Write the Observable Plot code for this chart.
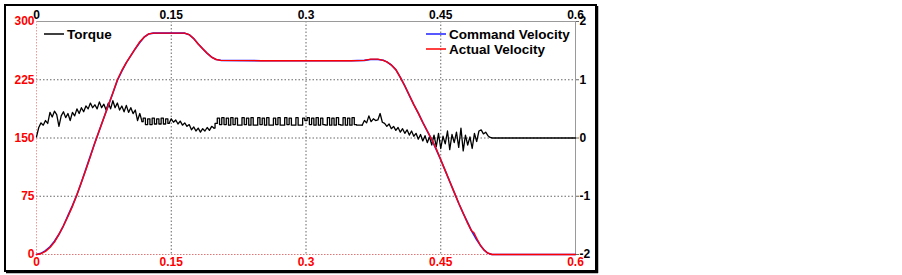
<!DOCTYPE html>
<html>
<head>
<meta charset="utf-8">
<script src="https://cdn.jsdelivr.net/npm/d3@7"></script>
<script src="https://cdn.jsdelivr.net/npm/@observablehq/plot@0.6"></script>
<style>
  html, body { margin: 0; padding: 0; background: #fff; }
  #wrap { position: relative; width: 902px; height: 275px; }
</style>
</head>
<body>
<div id="wrap"></div>
<script>
// ---- data ----
const xTicks = [0, 0.15, 0.3, 0.45, 0.6];
const velTicks = [0, 75, 150, 225, 300];
const torqueTicks = [-2, -1, 0, 1, 2];

const velT = [0,0.005,0.01,0.015,0.02,0.025,0.03,0.035,0.04,0.045,0.05,0.055,0.06,0.065,0.07,0.075,0.08,0.085,0.09,0.095,0.1,0.105,0.11,0.115,0.12,0.125,0.13,0.14,0.15,0.16,0.165,0.17,0.175,0.18,0.185,0.19,0.195,0.2,0.205,0.25,0.3,0.35,0.365,0.372,0.38,0.386,0.39,0.395,0.4,0.405,0.41,0.415,0.42,0.425,0.43,0.435,0.44,0.445,0.45,0.455,0.46,0.465,0.47,0.475,0.48,0.484,0.487,0.49,0.494,0.498,0.502,0.507,0.55,0.6];
const actualVelocity = [0,1,4,9,16,26,37,49,62,77,93,109,126,144,160,176,192,208,225,237,247,256,265,274,280,284,285,285,285,285,285,283,278,271,265,259,254,251,250,249.5,249.5,249.5,250,251.5,251.5,250,248,244,238,228,217,205,193,182,170,159,148,136,122,108,94,80,66,53,40,31,28,21,12,6,2,0,0,0];
const commandVelocity = [0,1.5,5,10,17,26,37,50,63,77,93,110,127,144,160,176,192,208,224,236,247,256,265,273,280,284,285,285,285,285,285,283,278,271,265,259,254,251,250,249.5,249.5,249.5,250,251,251,250,248,244,238,228,217,205,193,182,170,159,148,135,122,108,94,80,66,53,41,31,25,19,12,6,2,0,0,0];

const torqueStep = 0.0025;
const torque = [
  0.02,0.18,0.26,0.22,0.3,0.25,0.44,0.36,0.46,0.4,
  0.2,0.38,0.45,0.35,0.42,0.3,0.44,0.38,0.5,0.42,
  0.52,0.45,0.55,0.5,0.6,0.52,0.57,0.5,0.62,0.52,
  0.58,0.48,0.6,0.5,0.64,0.52,0.6,0.48,0.55,0.45,
  0.56,0.44,0.52,0.42,0.48,0.3,0.42,0.28,0.34,0.23,
  0.33,0.23,0.34,0.24,0.33,0.24,0.34,0.24,0.33,0.25,
  0.33,0.27,0.31,0.24,0.29,0.22,0.26,0.2,0.23,0.14,
  0.19,0.12,0.17,0.1,0.16,0.12,0.18,0.13,0.2,0.17,
  0.25,0.34,0.23,0.35,0.23,0.34,0.22,0.35,0.23,0.34,
  0.22,0.22,0.35,0.23,0.34,0.22,0.35,0.22,0.22,0.35,
  0.23,0.34,0.22,0.35,0.22,0.22,0.34,0.23,0.35,0.22,
  0.22,0.35,0.23,0.34,0.22,0.22,0.35,0.22,0.22,0.34,
  0.3,0.35,0.23,0.34,0.22,0.35,0.22,0.34,0.23,0.22,
  0.35,0.22,0.34,0.22,0.35,0.23,0.22,0.35,0.22,0.34,
  0.22,0.35,0.23,0.22,0.22,0.22,0.3,0.26,0.38,0.28,
  0.33,0.3,0.31,0.42,0.27,0.25,0.2,0.24,0.16,0.2,
  0.13,0.18,0.1,0.16,0.08,0.14,0.05,0.12,0.03,0.08,
  -0.02,0.06,-0.05,0.04,-0.08,0.02,-0.12,0.05,-0.15,0.08,
  -0.18,0.03,-0.1,0.12,-0.2,0.06,-0.08,0.1,-0.16,0.17,
  -0.22,0.05,-0.12,0.02,-0.18,0.08,-0.06,0.12,0.14,0.07,
  0.1,0.04,0.01,0
];
const torqueTailT = [0.6];
const torqueTail = [0];
// time spans where the torque signal switches like a square wave
const squareSpans = [[0.12, 0.15], [0.2, 0.365]];

// ---- build tables ----
const toY = t => (t + 2) * 75; // torque axis (-2..2) onto velocity axis (0..300)
const torqueData = torque.map((v, i) => ({t: +(i * torqueStep).toFixed(4), y: toY(v)}))
  .concat(torqueTailT.map((t, i) => ({t, y: toY(torqueTail[i])})));
const inSquare = t => squareSpans.some(([a, b]) => t >= a - 1e-9 && t <= b + 1e-9);
const segments = [];
let cur = null;
torqueData.forEach((d, i) => {
  const sq = i < torqueData.length - 1 && inSquare(d.t) && inSquare(torqueData[i + 1].t);
  if (!cur || cur.sq !== sq) {
    const seg = {sq, pts: cur ? [cur.pts[cur.pts.length - 1]] : []};
    segments.push(seg);
    cur = seg;
  }
  cur.pts.push(d);
});

const actData = velT.map((t, i) => ({t, v: actualVelocity[i]}));
const cmdData = velT.map((t, i) => ({t, v: commandVelocity[i]}));

const fmt = d => String(+d.toFixed(2));

const chart = Plot.plot({
  width: 902, height: 275,
  marginLeft: 36, marginRight: 327, marginTop: 21, marginBottom: 21,
  x: {domain: [0, 0.6]},
  y: {domain: [0, 300]},
  style: {fontFamily: "'Liberation Sans', Arial, sans-serif", fontWeight: "bold", fontSize: "12px", background: "transparent", overflow: "visible"},
  marks: [
    Plot.gridX([0.15, 0.3, 0.45], {stroke: "#666", strokeOpacity: 1, strokeDasharray: "1.5,2"}),
    Plot.gridY([75, 150, 225], {stroke: "#666", strokeOpacity: 1, strokeDasharray: "1.5,2"}),
    Plot.ruleY([300], {stroke: "#9a9a9a"}),
    Plot.ruleX([0.6], {stroke: "#9a9a9a"}),
    Plot.ruleY([0], {stroke: "#d77", strokeDasharray: "1.5,1.5"}),
    Plot.ruleX([0], {stroke: "#e99", strokeDasharray: "1.5,1.5"}),
    ...segments.map(s => Plot.line(s.pts, {x: "t", y: "y", stroke: "#000", strokeWidth: 1.3, curve: s.sq ? "step" : "linear"})),
    Plot.line(cmdData, {x: "t", y: "v", stroke: "#2020ff", strokeWidth: 1.6}),
    Plot.line(actData, {x: "t", y: "v", stroke: "#ff0000", strokeWidth: 1.4}),
    Plot.axisX({anchor: "bottom", ticks: xTicks, tickSize: 0, tickPadding: 3, fill: "red", tickFormat: fmt, label: null}),
    Plot.axisX({anchor: "top", ticks: xTicks, tickSize: 0, tickPadding: 3, fill: "#000", tickFormat: fmt, label: null}),
    Plot.axisY({anchor: "left", ticks: velTicks, tickSize: 0, tickPadding: 2, fill: "red", tickFormat: d => String(d), label: null}),
    Plot.axisY({anchor: "right", ticks: torqueTicks.map(toY), tickSize: 3, tickPadding: 1, fill: "#000", stroke: "#666", tickFormat: d => String(d / 75 - 2), label: null})
  ]
});

const wrap = document.getElementById("wrap");
wrap.appendChild(chart);

// outer frame
const svg = d3.select(chart);
svg.append("rect").attr("x", 5).attr("y", 5).attr("width", 591).attr("height", 266)
  .attr("fill", "none").attr("stroke", "#000").attr("stroke-width", 2);
svg.append("line").attr("x1", 597.5).attr("x2", 597.5).attr("y1", 6).attr("y2", 273)
  .attr("stroke", "#000").attr("stroke-width", 1.5);
svg.append("line").attr("x1", 6).attr("x2", 598).attr("y1", 272.5).attr("y2", 272.5)
  .attr("stroke", "#000").attr("stroke-width", 1.5);

// legends
const legends = [
  {label: "Torque", color: "#000", left: 44, top: 34},
  {label: "Command Velocity", color: "#2020ff", left: 426, top: 34},
  {label: "Actual Velocity", color: "#ff0000", left: 426, top: 49}
];
const lg = svg.append("g").attr("text-anchor", "start");
for (const l of legends) {
  lg.append("line").attr("x1", l.left).attr("x2", l.left + 20).attr("y1", l.top).attr("y2", l.top)
    .attr("stroke", l.color).attr("stroke-width", 1.5);
  lg.append("text").attr("x", l.left + 23).attr("y", l.top).attr("dy", "0.36em")
    .attr("text-anchor", "start")
    .attr("font-family", "'Liberation Sans', Arial, sans-serif").attr("font-weight", "bold")
    .attr("font-size", 13.5).attr("fill", "#000").text(l.label);
}
</script>
</body>
</html>
